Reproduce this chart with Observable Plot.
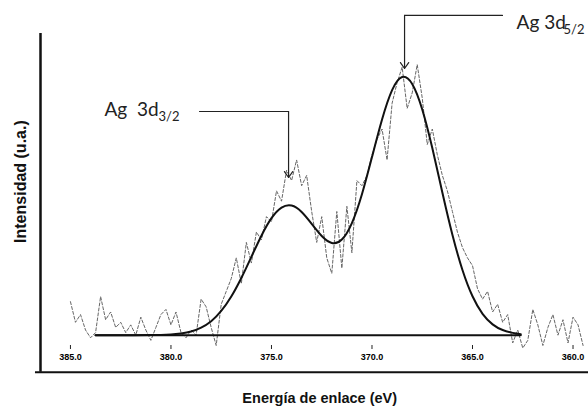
<!DOCTYPE html>
<html>
<head>
<meta charset="utf-8">
<script src="https://cdn.jsdelivr.net/npm/d3@7"></script>
<script src="https://cdn.jsdelivr.net/npm/@observablehq/plot@0.6"></script>
<style>
  html, body { margin: 0; padding: 0; background: #fff; }
  #chart { width: 588px; height: 409px; }
</style>
</head>
<body>
<div id="chart"></div>
<script>
// Measured spectrum (binding energy eV, intensity a.u.)
const energy = [385, 384.75, 384.5, 384.25, 384, 383.75, 383.5, 383.25, 383, 382.75,
  382.5, 382.25, 382, 381.75, 381.5, 381.25, 381, 380.75, 380.5, 380.25,
  380, 379.75, 379.5, 379.25, 379, 378.75, 378.5, 378.25, 378, 377.75,
  377.5, 377.25, 377, 376.75, 376.5, 376.25, 376, 375.75, 375.5, 375.25,
  375, 374.75, 374.5, 374.25, 374, 373.75, 373.5, 373.25, 373, 372.75,
  372.5, 372.25, 372, 371.75, 371.5, 371.25, 371, 370.75, 370.5, 370.25,
  370, 369.75, 369.5, 369.25, 369, 368.75, 368.5, 368.25, 368, 367.75,
  367.5, 367.25, 367, 366.75, 366.5, 366.25, 366, 365.75, 365.5, 365.25,
  365, 364.75, 364.5, 364.25, 364, 363.75, 363.5, 363.25, 363, 362.75,
  362.5, 362.25, 362, 361.75, 361.5, 361.25, 361, 360.75, 360.5, 360.25,
  360, 359.75, 359.5];
const counts = [13, 5, 8, 2, -1, 1, 15, 6, 9, 3,
  5, 1, 4, 0, 7, 2, -2, 3, 8, 10,
  4, 9, 1, -1, 2, 0, 14, 11, 3, -4,
  12, 17, 22, 30, 20, 36, 28, 40, 37, 46,
  44, 56, 52, 64, 60, 68, 58, 62, 48, 36,
  46, 30, 24, 48, 26, 50, 32, 60, 58, 62,
  70, 76, 80, 68, 90, 98, 104, 88, 94, 105,
  92, 74, 80, 70, 62, 56, 48, 40, 34, 30,
  27, 18, 14, 17, 9, 12, 5, 8, -3, 2,
  -5, -2, 10, 4, -4, 3, 8, 0, 6, -3,
  7, 4, -4];

// Fitted envelope
const fitEnergy = [383.75, 383, 382, 381, 380.5, 380, 379.5, 379, 378.5, 378,
  377.5, 377, 376.5, 376, 375.5, 375, 374.5, 374, 373.5, 373,
  372.5, 372, 371.5, 371, 370.5, 370, 369.5, 369, 368.5, 368,
  367.5, 367, 366.5, 366, 365.5, 365, 364.5, 364, 363.5, 363, 362.6];
const fitIntensity = [0, 0, 0, 0.05, 0.1, 0.3, 0.7, 1.4, 2.9, 5.4,
  9.4, 15.0, 22.2, 30.4, 38.6, 45.4, 49.5, 50.3, 47.8, 43.2,
  38.5, 35.8, 37.1, 43.5, 54.7, 69.1, 83.7, 95.1, 100.2, 97.5,
  87.6, 72.6, 55.4, 39.0, 25.3, 15.1, 8.3, 4.2, 2.0, 0.9, 0.4];

// Baseline extent
const baselineEnergy = [383.75, 362.6];

// Axis ticks
const xTicks = [385, 380, 375, 370, 365, 360];

// Peak labels
const peakNames = ["Ag  3d", "Ag 3d"];
const peakSubs = ["3/2", "5/2"];
const peakEnergy = [374.15, 368.38];

const measured = energy.map((e, i) => ({e, v: counts[i]}));
const fit = fitEnergy.map((e, i) => ({e, v: fitIntensity[i]}));

const sans = "Liberation Sans, Arial, sans-serif";
const callout = "Lato, 'Open Sans', sans-serif";

const chart = Plot.plot({
  width: 588,
  height: 409,
  marginLeft: 40,
  marginRight: 0,
  marginTop: 33,
  marginBottom: 64,
  style: {fontFamily: sans, background: "#fff"},
  x: {domain: [386.49, 359.23], ticks: xTicks, tickFormat: d => d.toFixed(1)},
  y: {domain: [-4.0, 117.07], axis: null},
  marks: [
    // frame lines
    Plot.ruleX([386.49], {y1: -14.4, y2: 117.07, stroke: "#111", strokeWidth: 2.5}),
    Plot.ruleY([-14.4], {x1: 386.74, x2: 359.23, stroke: "#111", strokeWidth: 2}),
    // x axis
    Plot.axisX({ticks: xTicks, tickFormat: d => d.toFixed(1), tickSize: 4, tickPadding: 4,
      fontSize: 9, fontWeight: "bold", label: null, stroke: "#222"}),
    Plot.text(["Energía de enlace (eV)"], {x: 372.6, y: -24.4, fontSize: 14.5,
      fontWeight: "bold", fill: "#111"}),
    Plot.text(["Intensidad (u.a.)"], {x: 387.49, y: 59.6, rotate: -90,
      fontSize: 16, fontWeight: "bold", fill: "#111"}),
    // measured data
    Plot.line(measured, {x: "e", y: "v", stroke: "#666", strokeWidth: 1, strokeDasharray: "3,2"}),
    // baseline
    Plot.line(baselineEnergy.map(e => ({e, v: 0})), {x: "e", y: "v", stroke: "#111", strokeWidth: 2}),
    // fit
    Plot.line(fit, {x: "e", y: "v", stroke: "#111", strokeWidth: 2, curve: "natural"}),
    // callout 1 (3d3/2)
    Plot.line([{e: 378.58, v: 86.8}, {e: peakEnergy[0], v: 86.8}], {x: "e", y: "v", stroke: "#222", strokeWidth: 1.2}),
    Plot.arrow([0], {x1: peakEnergy[0], y1: 86.8, x2: peakEnergy[0], y2: 61.2, stroke: "#222",
      strokeWidth: 1.2, headLength: 9, headAngle: 70}),
    Plot.text([peakNames[0]], {x: 383.31, y: 84.9, textAnchor: "start", lineAnchor: "bottom",
      fontSize: 19, fontFamily: callout, fill: "#222"}),
    Plot.text([peakSubs[0]], {x: 380.62, y: 83.3, textAnchor: "start", lineAnchor: "bottom",
      fontSize: 13, fontFamily: callout, fill: "#222"}),
    // callout 2 (3d5/2)
    Plot.line([{e: peakEnergy[1], v: 124.1}, {e: 363.51, v: 124.1}], {x: "e", y: "v", stroke: "#222", strokeWidth: 1.2}),
    Plot.arrow([0], {x1: peakEnergy[1], y1: 124.1, x2: peakEnergy[1], y2: 103.5, stroke: "#222",
      strokeWidth: 1.2, headLength: 9, headAngle: 70}),
    Plot.text([peakNames[1]], {x: 362.81, y: 119.0, textAnchor: "start", lineAnchor: "bottom",
      fontSize: 19, fontFamily: callout, fill: "#222"}),
    Plot.text([peakSubs[1]], {x: 360.47, y: 116.7, textAnchor: "start", lineAnchor: "bottom",
      fontSize: 13, fontFamily: callout, fill: "#222"})
  ]
});
document.getElementById("chart").appendChild(chart);
</script>
</body>
</html>
